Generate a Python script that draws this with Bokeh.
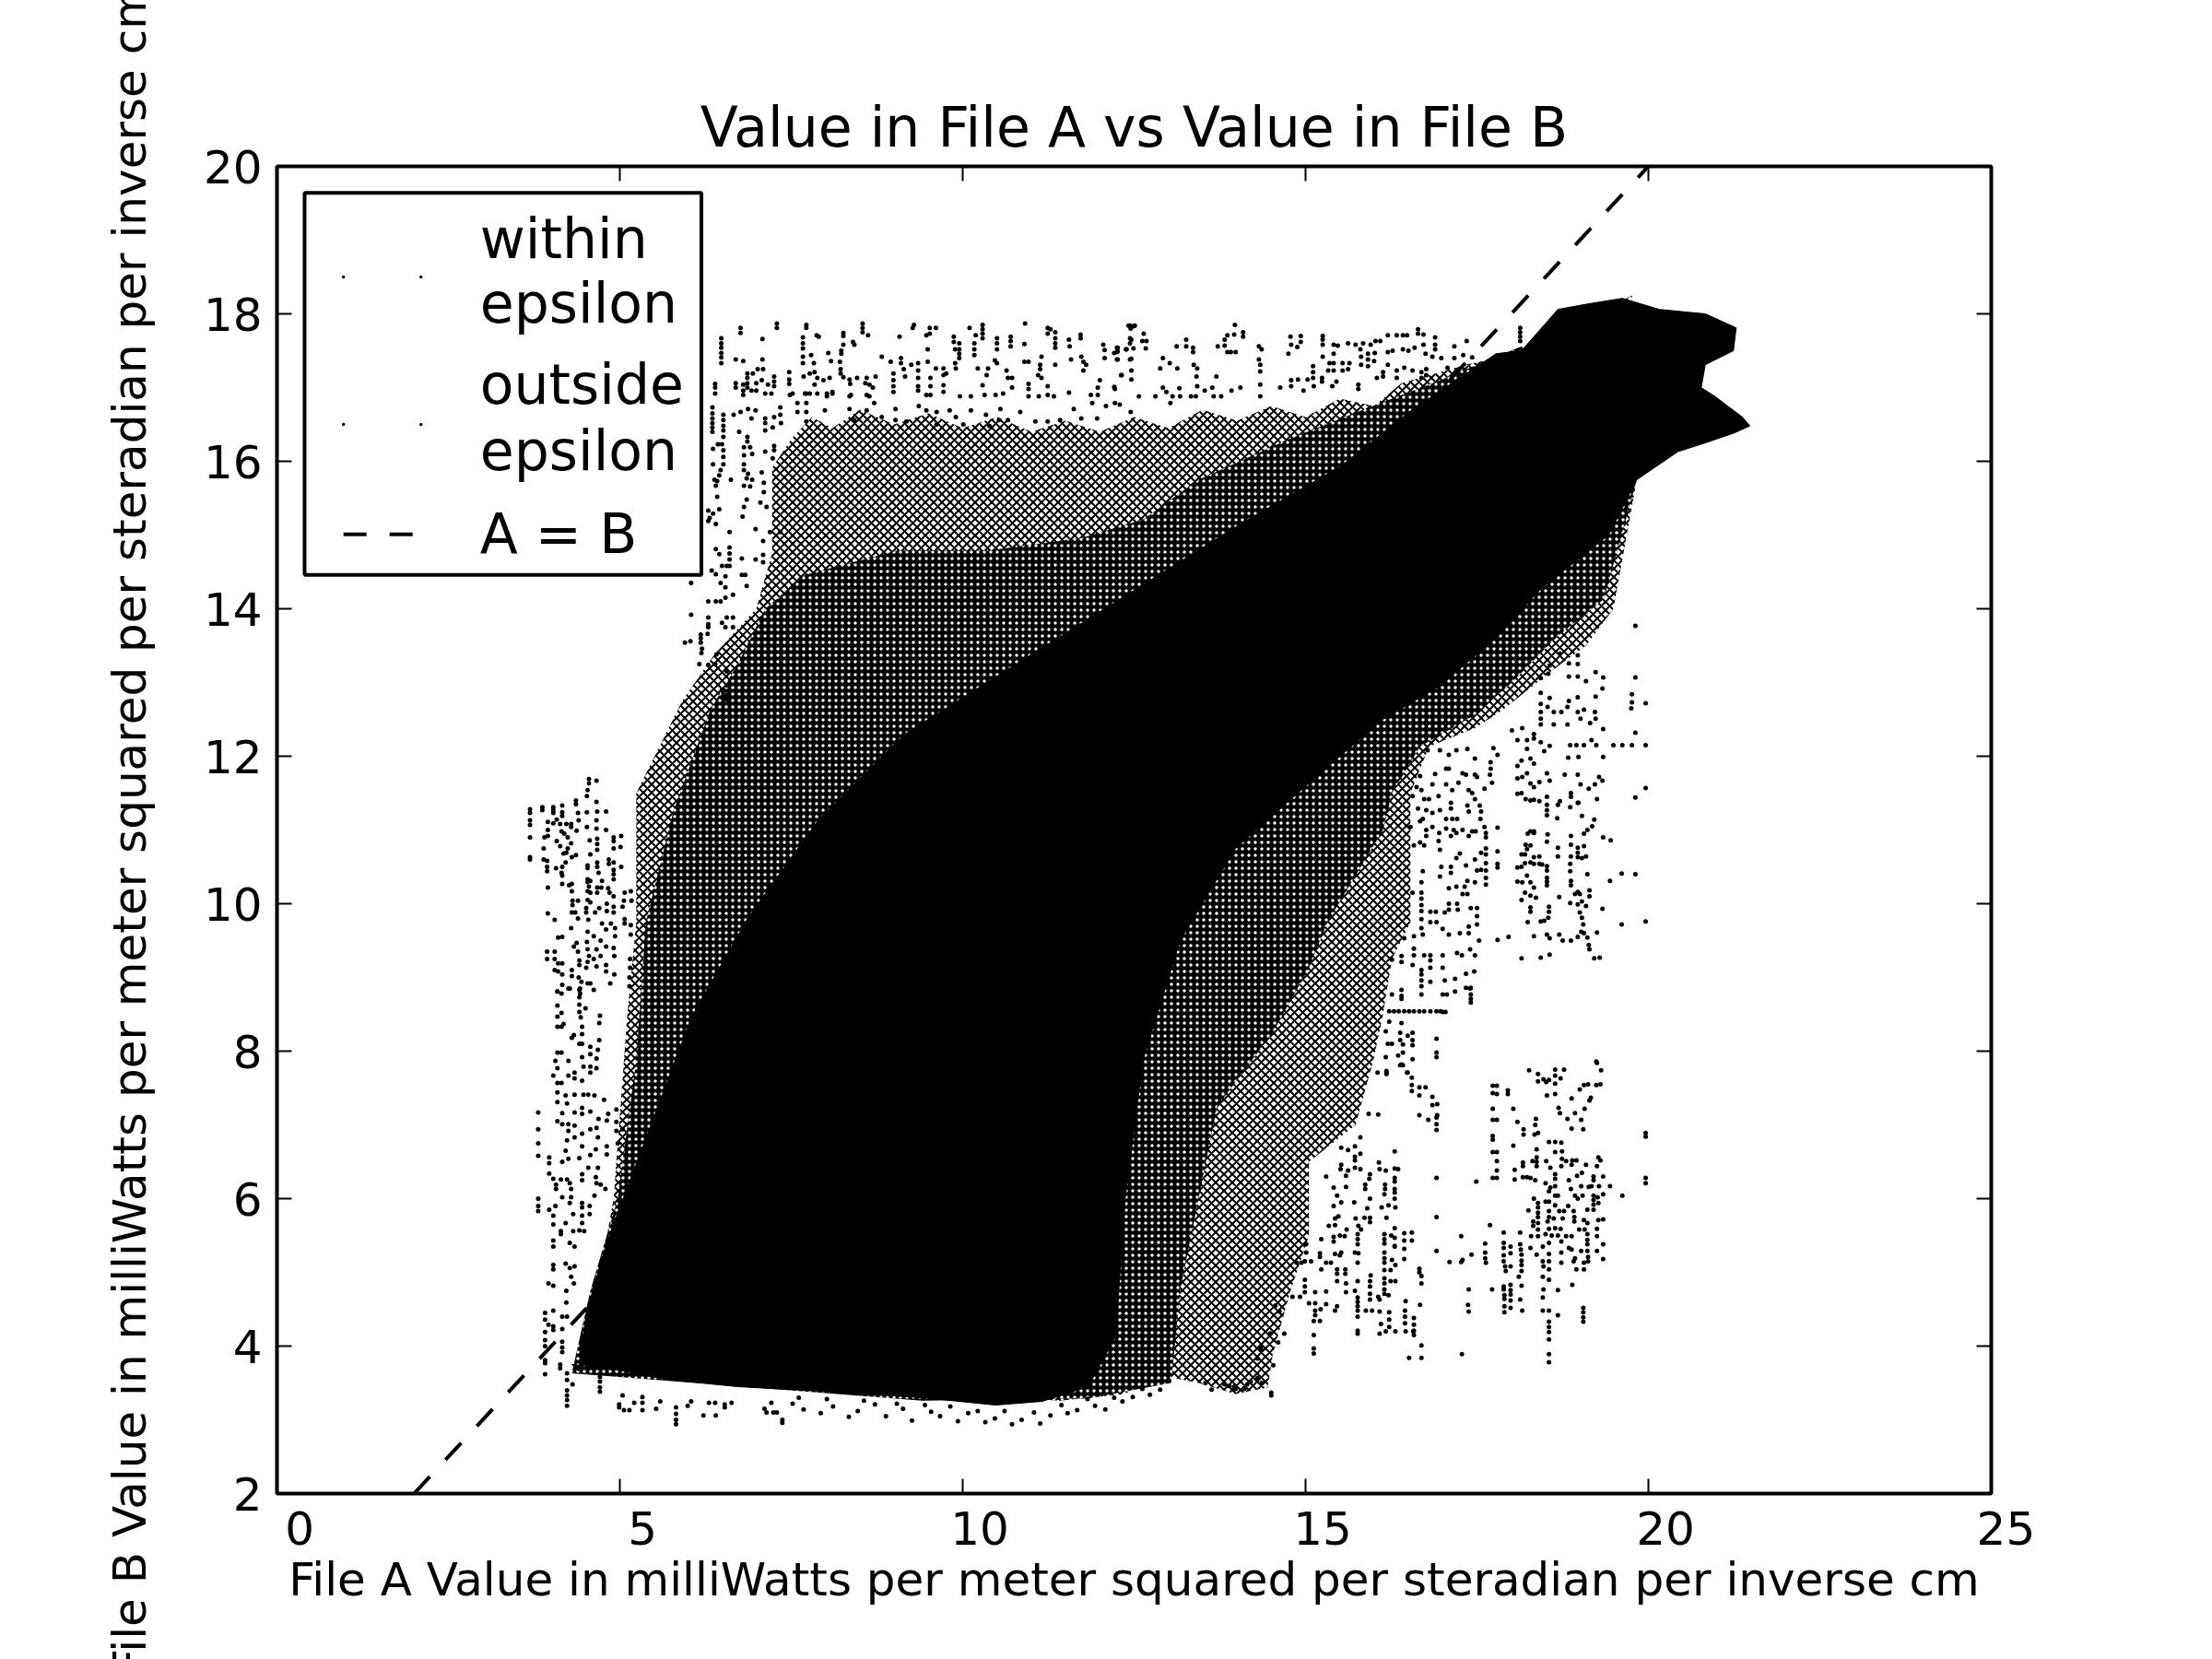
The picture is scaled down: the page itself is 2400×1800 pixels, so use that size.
from bokeh.plotting import figure
from bokeh.models import Range1d, LinearAxis, FixedTicker, Label, BoxAnnotation
from bokeh.embed import file_html
from bokeh.resources import INLINE

title_text = "Value in File A vs Value in File B"
x_title = "File A Value in milliWatts per meter squared per steradian per inverse cm"
y_title = "File B Value in milliWatts per meter squared per steradian per inverse cm"
x_ticks = [0, 5, 10, 15, 20, 25]
y_ticks = [2, 4, 6, 8, 10, 12, 14, 16, 18, 20]
identity_x = [2, 20]
identity_y = [2, 20]

# Solid black part of the cloud: outline
core_x = [4.30,4.84,5.65,6.72,8.06,9.41,10.48,11.16,11.83,12.23,12.37,12.63,13.17,13.98,15.19,16.13,16.94,17.81,18.41,19.42,19.83,20.43,20.83,21.24,21.48,21.37,20.97,20.77,20.83,21.24,21.28,20.83,20.16,19.62,19.09,18.68,18.15,17.78,16.54,15.51,14.07,12.43,10.78,9.14,7.90,6.87,6.05,5.43,4.81,4.51,4.40]
core_y = [3.75,3.70,3.55,3.45,3.38,3.30,3.20,3.25,3.45,4.13,6.00,7.88,9.50,10.75,11.75,12.50,12.94,13.63,14.25,15.00,15.75,16.13,16.25,16.38,16.48,16.60,16.88,17.00,17.31,17.50,17.81,18.00,18.06,18.21,18.13,18.06,17.50,17.46,16.69,15.93,15.16,14.21,13.25,12.29,11.14,9.81,8.47,6.94,5.41,4.45,3.66]

# Closely packed points with white specks between them: outline
dense_x = [7.12,7.70,9.05,10.39,11.73,12.63,13.44,14.78,15.73,16.94,18.15,19.83,19.35,18.68,18.01,17.47,16.67,16.26,16.13,15.32,15.05,14.52,13.71,13.44,13.17,13.04,11.83,9.41,4.30,4.57,4.97,5.24,5.38,5.78,6.32,6.72]
dense_y = [14.00,14.46,14.79,14.79,14.96,15.21,15.75,16.31,16.66,17.09,17.56,15.75,14.13,13.63,13.00,12.56,12.13,11.50,11.00,9.75,9.13,8.25,7.25,6.00,4.75,3.50,3.29,3.26,3.63,4.75,6.00,7.88,9.75,11.25,12.63,13.25]

# Loosely packed points: outline
loose_x = [7.22,7.50,7.80,8.10,8.50,9.00,9.50,10.00,10.50,11.00,11.50,12.00,12.50,13.00,13.50,14.00,14.50,15.00,15.50,16.00,16.40,17.34,18.55,18.82,19.76,19.83,19.49,19.09,18.55,17.88,17.47,16.80,16.53,16.53,16.26,16.13,15.99,15.73,15.05,15.05,14.78,14.52,14.45,13.98,13.44,12.77,12.37,11.42,4.30,4.57,4.91,5.11,5.24,5.24,5.91,6.38,6.99,7.22]
loose_y = [15.91,16.30,16.60,16.45,16.70,16.50,16.65,16.45,16.60,16.40,16.55,16.40,16.60,16.45,16.70,16.55,16.75,16.60,16.85,16.75,17.06,17.31,17.56,17.75,18.25,15.75,14.00,13.50,13.13,12.63,12.38,12.13,11.50,9.75,9.25,8.50,7.88,7.00,6.50,5.50,4.75,3.88,3.44,3.35,3.50,3.63,3.35,3.26,3.63,4.25,6.00,8.50,9.75,11.50,12.75,13.38,14.00,14.75]

# Separate points, read one by one
points_right_upper = [
(19.81,13.77),(19.81,13.07),(19.76,12.84),(19.76,12.73),(19.75,12.65),(19.96,12.72),(19.81,12.32),(19.96,12.15),(19.76,12.15),(19.62,12.15),(19.49,12.15),(19.34,12.37),(19.34,11.99),(19.24,12.15),(19.17,12.22),(19.06,12.15),(18.95,12.15),(18.86,12.15),(18.98,11.99),(18.83,11.98),(18.56,12.14),(18.48,12.07),(18.43,12.19),(18.33,12.30),(18.33,12.24),(18.23,12.22),(18.23,12.10),(18.09,12.22),(18.01,12.35),(18.16,12.38),(18.62,12.43),(18.82,12.43),(18.43,12.43),(18.43,12.51),(18.43,12.60),(18.43,12.71),(18.43,12.86),(18.56,12.79),(18.53,12.67),(18.62,12.60),(18.73,12.60),(18.82,12.67),(18.84,12.75),(18.97,12.80),(18.97,12.60),(19.06,12.63),(19.01,12.51),(19.15,12.45),(19.22,12.60),(19.23,12.51),(19.23,12.81),(19.33,12.92),(19.34,13.07),(19.23,13.14),(19.09,13.02),(18.97,13.08),(18.84,13.08),(18.84,13.26),(18.97,13.25),(18.97,13.37),(18.71,13.39),(18.56,13.23),(18.54,13.12),(18.43,13.06),
(19.96,11.57),(19.81,11.44),(19.28,11.72),(19.33,11.67),(19.22,11.62),(19.13,11.56),(19.01,11.62),(18.97,11.75),(18.78,11.75),(18.56,11.67),(18.52,11.77),(18.41,11.65),(18.28,11.63),(18.33,11.58),(18.23,11.77),(18.16,11.72),(18.09,11.70),(18.09,11.87),(18.15,11.94),(18.28,11.97),(18.33,11.90),(18.09,11.49),(18.15,11.50),(18.21,11.42),(18.28,11.40),(18.33,11.41),(18.41,11.39),(18.52,11.45),(18.52,11.34),(18.52,11.27),(18.52,11.20),(18.67,11.16),(18.68,11.34),(18.71,11.39),(18.87,11.50),(18.87,11.45),(18.86,11.31),(18.97,11.37),(18.98,11.37),(19.25,11.42),(19.03,11.19),(19.21,11.14),(19.18,11.05),(19.11,11.00),(19.06,10.95),(18.87,10.92),(19.34,10.90),(19.45,10.86),(18.28,10.98),(18.33,10.98),(18.24,10.95),(18.33,10.96),(18.53,10.94),(18.52,10.84),(18.21,10.80),(18.28,10.79),(18.87,10.80),(18.68,10.76),(18.97,10.76),(19.06,10.78),(17.80,11.03),(17.80,10.71),(18.23,10.74),(18.15,10.67),(18.20,10.67),(18.33,10.63),(18.41,10.64),(18.68,10.64),(18.87,10.64),(18.97,10.69),(18.97,10.63),(19.03,10.62),(19.09,10.64),(18.20,10.55),(18.28,10.56),(18.33,10.54),(18.41,10.54),(18.45,10.53),(18.52,10.51),(18.15,10.50),(18.09,10.49),(18.86,10.54),(18.86,10.44),(18.52,10.45),(18.52,10.35),(18.52,10.30),(18.52,10.25),(18.87,10.31),(18.87,10.25),(19.11,10.40),(19.61,10.41),(19.81,10.40),(19.44,10.31),(18.09,10.30),(18.16,10.29),(18.23,10.38),(18.28,10.29),(18.33,10.22),(17.80,10.54),(17.80,10.49),
(18.20,10.15),(18.28,10.11),(18.36,10.08),(18.15,10.05),(18.70,10.09),(18.86,10.01),(18.97,10.16),(18.93,10.13),(19.00,10.13),(19.14,10.18),(19.14,10.10),(18.97,9.99),(19.03,10.03),(19.09,9.97),(18.28,9.95),(18.28,9.89),(18.24,9.75),(18.55,9.96),(18.55,9.89),(18.54,9.81),(18.48,9.77),(18.43,9.76),(19.00,9.88),(19.03,9.81),(19.05,9.72),(19.33,9.93),(19.61,9.72),(19.96,9.76),(17.80,9.51),(17.96,9.55),(18.33,9.56),(18.52,9.58),(18.56,9.53),(18.70,9.58),(18.75,9.50),(18.87,9.50),(18.97,9.55),(19.02,9.62),(19.06,9.60),(19.11,9.54),(19.13,9.44),(19.14,9.38),(19.25,9.61),(18.56,9.31),(18.43,9.27),(18.15,9.26),(19.21,9.26),(19.29,9.27)]

points_middle_right = [
(17.80,12.02),(17.74,12.11),(17.70,11.92),(17.70,11.83),(17.69,11.75),(17.72,11.64),(17.61,11.56),(17.47,11.75),(17.50,11.72),(17.38,11.54),(17.43,11.50),(17.47,11.42),(17.36,11.33),(17.38,11.25),(17.54,11.33),(17.56,11.25),(17.55,11.15),(17.61,11.04),(17.63,10.96),(17.63,10.90),(17.43,10.98),(17.48,10.98),(17.38,10.92),(17.29,11.00),(17.20,10.96),(17.12,10.92),(17.16,11.00),(17.05,11.02),(16.95,10.96),(16.85,11.04),(16.76,11.00),(16.76,10.92),(16.67,11.12),(16.71,11.15),(16.53,11.04),(16.58,10.79),(16.67,10.83),(16.73,10.79),(16.94,10.85),(16.96,10.73),(17.25,10.68),(17.20,10.62),(17.34,10.52),(17.47,10.60),(17.56,10.69),(17.63,10.75),(17.63,10.67),(17.63,10.55),(17.63,10.45),(17.63,10.35),(17.63,10.26),(17.56,10.46),(17.50,10.45),(17.47,10.29),(17.36,10.31),(17.32,10.23),(17.20,10.23),(17.09,10.21),(17.12,10.50),(17.12,10.42),(16.98,10.50),(16.96,10.37),(16.71,10.44),(16.69,10.29),(16.56,10.15),(16.69,10.15),(16.69,10.07),(16.69,9.98),(16.69,9.90),(16.69,9.79),(16.69,9.67),(16.82,9.89),(16.90,9.89),(17.03,9.88),(17.09,10.00),(17.09,9.92),(17.21,10.00),(17.22,9.92),(17.29,10.13),(17.36,10.13),(17.41,9.94),(17.50,9.94),(17.50,9.83),(17.50,9.72),(17.38,9.69),(17.38,9.60),(17.25,9.60),(17.09,9.58),(17.00,9.66),(16.91,9.75),(16.82,9.75),(16.71,9.58),(16.58,9.56),(16.44,9.53),(16.73,9.30),(16.82,9.30),(17.00,9.30),(17.21,9.33),(17.28,9.30),(17.40,9.38),(17.53,9.50),(17.47,9.30),(16.58,9.39),(16.58,9.30),
(16.78,12.08),(16.96,12.08),(17.09,12.02),(17.20,12.08),(17.36,12.10),(17.47,11.97),(17.29,11.77),(17.34,11.75),(17.09,11.83),(17.05,11.83),(16.89,11.76),(16.67,11.73),(16.85,11.62),(17.05,11.62),(17.23,11.64),(17.14,11.54),(16.94,11.46),(16.80,11.42),(16.73,11.42),(16.62,11.58),(16.69,11.54),(16.56,11.46),(16.64,11.29),(16.76,11.27),(16.85,11.23),(16.96,11.27),(17.05,11.15),(17.14,11.15),(17.21,11.15),(17.12,11.37),(17.12,11.29),
(16.26,9.24),(16.40,9.29),(16.40,9.21),(16.56,9.17),(16.69,9.10),(16.82,9.23),(16.82,9.13),(17.00,9.13),(17.34,9.05),(17.46,9.08),(16.69,9.04),(16.69,8.96),(16.69,8.88),(16.40,8.83),(16.40,8.75),(16.40,8.71),(16.26,8.77),(16.69,8.77),(17.00,8.77),(17.06,8.77),(17.18,8.81),(17.41,8.86),(17.41,8.77),(17.41,8.71),(17.41,8.66),(17.34,8.86),(17.40,8.85),(16.82,8.94),(17.03,8.96),(17.18,8.98),
(16.22,8.54),(16.29,8.54),(16.36,8.54),(16.44,8.54),(16.51,8.54),(16.58,8.54),(16.66,8.54),(16.73,8.54),(16.82,8.54),(16.91,8.54),(16.97,8.54),(17.00,8.53),(17.04,8.53),
(16.22,8.40),(16.40,8.38),(16.17,8.27),(16.38,8.25),(16.56,8.25),(16.49,8.21),(16.38,8.15),(16.56,8.15),(16.20,8.10),(16.26,8.10),(16.42,8.09),(16.56,8.08),(16.17,7.92),(16.35,7.94),(16.42,7.98),(16.56,7.89),(16.91,8.17),(16.91,7.98),(16.91,7.92),(16.38,7.81),(16.42,7.81),(16.18,7.71),(16.49,7.71)]

points_far_right = [
(19.96,6.89),(19.96,6.84),(19.96,6.28),(19.96,6.21),(19.62,6.04),(19.44,6.17),(19.34,6.30),(19.28,6.17),(19.34,6.06),(19.26,6.02),(19.20,6.30),(19.20,6.25),(19.13,6.16),(19.17,6.17),(19.02,6.17),(18.87,6.13),(18.84,6.25),(18.96,6.31),(19.03,6.35),(19.09,6.46),(19.27,6.56),(19.30,6.52),(19.25,6.44),(18.89,6.52),(18.95,6.52),(18.80,6.51),(18.88,6.46),(18.74,6.54),(18.73,6.44),(18.64,6.33),(18.64,6.27),(18.50,6.21),(18.57,6.15),(18.64,6.17),(18.55,6.10),(18.64,6.04),(18.68,6.04),(18.93,6.04),(18.97,6.00),(19.04,6.04),(19.20,6.04),(19.20,5.98),(19.20,5.92),(19.27,5.94),(19.20,5.85),(19.11,5.85),(18.91,5.83),(18.92,5.75),(18.92,5.69),(18.83,5.90),(18.77,5.83),(18.70,5.83),(18.64,5.91),(18.55,5.96),(18.50,5.96),(18.55,5.83),(18.39,5.94),(18.39,5.88),(18.39,5.81),(18.33,6.00),(18.25,5.84),(18.39,5.75),(18.39,5.67),(18.39,5.58),(18.39,5.49),(18.32,5.69),(18.32,5.63),(18.29,5.49),(18.55,5.75),(18.53,5.69),(18.62,5.73),(18.75,5.73),(19.06,5.71),(19.11,5.67),(19.27,5.71),(19.34,5.72),(19.25,5.59),(19.25,5.49),(19.07,5.58),(18.99,5.58),(18.88,5.49),(18.80,5.49),(18.72,5.59),(18.64,5.60),(18.55,5.59),(18.50,5.52),(18.59,5.50),(18.68,5.50),(19.11,5.52),(19.11,5.44),(19.11,5.38),(19.11,5.29),(19.12,5.21),(19.12,5.15),(19.02,5.29),(18.93,5.19),(18.91,5.15),(18.95,5.04),(19.06,5.04),(19.06,5.13),(18.84,5.33),(18.88,5.31),(18.55,5.40),(18.55,5.25),(18.55,5.15),(18.55,5.04),(18.55,4.90),(18.46,5.35),(18.46,5.15),(18.47,5.08),(18.37,5.24),(18.28,5.33),(18.73,5.42),(18.73,5.27),(18.73,5.13),(19.25,5.29),(19.34,5.38),(19.34,5.18),(18.46,4.94),(18.47,4.77),(18.68,4.76),(18.89,4.83),(18.46,4.66),(18.46,4.48),(18.55,4.48),(18.68,4.42),(19.05,4.52),(19.05,4.46),(19.05,4.39),(19.05,4.33),(18.55,4.33),(18.55,4.26),(18.55,4.19),(18.55,4.09),(18.55,3.89),(18.55,3.78),
(18.13,5.54),(18.13,5.38),(18.14,5.31),(18.15,5.24),(18.15,5.16),(18.15,5.10),(18.15,5.02),(18.11,4.94),(18.15,4.82),(18.13,4.63),(18.16,4.48),(17.89,5.54),(17.89,5.40),(17.89,5.33),(17.89,5.23),(17.89,5.15),(17.91,5.08),(17.92,5.02),(17.99,5.35),(17.99,5.26),(17.99,5.08),(17.89,4.81),(17.89,4.77),(17.99,4.83),(17.99,4.76),(17.90,4.69),(17.90,4.64),(17.99,4.70),(17.99,4.62),(17.99,4.52),(17.90,4.54),(17.90,4.46),(17.62,5.39),(17.62,5.27),(17.62,5.19),(17.63,5.13),(17.27,5.49),(17.42,5.24),(17.29,5.17),(17.27,5.14),(17.10,5.14),(17.69,5.64),(17.38,4.77),(17.72,4.77),(17.37,4.56),(17.38,4.47),(17.28,3.89),
(17.73,7.53),(17.79,7.53),(17.73,7.43),(17.79,7.42),(17.95,7.47),(17.95,7.42),(17.73,7.22),(18.03,7.22),(17.73,7.07),(17.79,7.07),(17.73,6.85),(17.73,6.80),(18.03,6.72),(17.73,6.63),(17.79,6.63),(17.79,6.51),(17.79,6.38),(17.73,6.28),(17.79,6.28),(18.05,6.39),(18.05,6.26),(17.49,6.23),(16.91,7.10),(16.91,7.01),(16.91,6.93),(16.91,6.28),(16.91,5.75),(16.91,5.29),
(18.17,6.49),(18.17,6.44),(18.17,6.29),(18.23,6.29),(18.28,6.28),(18.35,6.25),(18.37,6.44),(18.37,6.50),(18.31,6.51),(18.37,6.56),(18.37,6.67),(18.51,6.51),(18.57,6.42),(18.64,6.63),(18.74,6.64),(18.64,6.77),(18.73,6.76),(18.55,6.77),(18.34,6.87),(18.39,6.89),(18.18,6.94),(18.18,6.87),(18.52,7.40),(18.26,7.74),(18.39,7.69),(18.39,7.59),(18.47,7.62),(18.51,7.58),(18.55,7.61),(18.64,7.75),(18.64,7.67),(18.77,7.75),(18.72,7.63),(18.64,7.56),(18.64,7.42),(18.69,7.23),(18.71,7.16),(18.82,7.08),(18.88,6.95),(18.88,7.36),(18.93,7.16),(19.02,7.07),(19.05,6.94),(19.07,7.22),(19.14,7.33),(19.16,7.37),(19.24,7.54),(19.30,7.55),(19.24,7.86),(19.31,7.74),(19.25,7.84),(19.00,7.48),(19.06,7.54),(19.12,7.55),(18.09,7.04),(18.36,7.08),(18.35,7.00)]

points_lower_mid = [
(15.01,5.38),(15.01,5.27),(15.08,5.15),(14.99,5.15),(14.87,5.13),(14.94,5.13),(14.99,4.90),(14.99,4.81),(14.99,4.73),(15.14,4.73),(15.30,4.74),(14.92,4.67),(14.81,4.67),(15.05,4.58),(15.14,4.58),(15.30,4.57),(15.46,4.54),(15.43,4.48),(15.14,4.48),(15.14,4.42),(15.22,4.50),(15.21,4.34),(15.41,5.48),(15.41,5.42),(15.50,5.50),(15.57,5.49),(15.23,5.45),(15.43,5.25),(15.50,5.23),(15.52,5.27),(15.30,5.13),(15.23,5.04),(15.37,5.13),(15.21,5.26),(15.21,5.21),(15.34,5.63),(15.43,5.64),(15.46,6.04),(15.52,5.95),(15.41,5.90),(15.71,5.95),(15.48,5.76),(15.43,5.73),(15.59,6.16),(15.41,6.15),(15.30,6.30),(15.59,6.31),(15.52,6.46),(15.51,6.40),(15.62,6.38),(15.72,6.52),(15.72,6.42),(15.80,6.40),(15.62,6.66),(15.52,6.69),(15.72,6.71),(15.46,5.04),(15.46,4.98),(15.46,4.88),(15.58,5.04),(15.58,4.98),(15.59,4.85),(15.59,4.73),(15.72,5.27),(15.77,5.26),(15.72,4.75),(15.76,5.13),(15.76,4.88),(15.76,4.66),(15.76,4.60),(15.76,4.54),(15.76,4.48),(15.76,4.40),(15.76,4.21),(15.76,4.17),(15.76,5.52),(15.76,5.45),(15.76,5.38),(15.77,5.63),(15.81,5.58),(15.60,5.58),(15.94,5.74),(15.94,5.68),(15.86,5.74),(15.73,5.73),(15.90,5.87),(16.11,5.88),(16.21,5.91),(16.31,5.88),(16.18,5.74),(15.94,6.00),(16.15,6.06),(16.16,6.19),(16.16,6.13),(16.30,6.13),(16.30,6.08),(15.87,6.19),(15.87,6.13),(15.94,6.33),(15.93,6.27),(16.08,6.40),(16.17,6.38),(16.35,6.40),(16.30,6.23),(16.07,6.49),
(15.95,4.96),(15.94,4.88),(15.94,4.81),(15.94,4.71),(15.94,4.63),(16.15,4.92),(16.15,4.85),(16.15,4.77),(16.15,4.71),(16.21,4.69),(16.06,4.67),(16.08,4.63),(16.15,5.52),(16.15,5.45),(16.15,5.39),(16.15,5.27),(16.15,5.19),(16.15,5.13),(16.15,5.03),(16.24,5.03),(16.25,5.50),(16.30,5.35),(16.26,5.17),(16.31,5.10),(16.31,4.88),(16.24,4.88),(16.22,4.46),(16.22,4.36),(16.22,4.26),(16.17,4.20),(16.08,4.17),(16.10,4.30),(15.97,4.48),(15.88,4.48),(16.08,4.47),(16.31,4.20),(16.46,4.20),(16.45,4.48),(16.45,4.40),(16.45,4.31),(16.58,4.38),(16.58,4.29),(16.58,4.21),(16.58,4.15),(16.46,4.61),(16.67,4.56)]

points_lower_right = [
(16.05,7.71),(16.18,7.73),(16.18,7.69),(16.40,7.82),(16.48,7.71),(16.55,7.64),(16.55,7.54),(16.55,7.46),(16.66,7.51),(16.66,7.40),(16.75,7.51),(16.85,7.38),(16.85,7.27),(16.92,7.28),(16.92,7.13),(16.66,7.13),(16.79,7.07),(16.06,7.14),(15.92,7.15),(15.80,6.83),(15.80,6.61),(15.72,6.57),(16.30,6.64),(16.30,6.41),(16.30,6.28),(16.30,6.00),(16.30,5.60),(16.30,5.47),(16.30,5.36),(16.55,5.54),(16.55,5.43),(16.44,5.53),(16.44,5.43),(16.44,5.32),(16.44,5.18),(16.66,5.05),(16.66,5.00),(16.69,4.95),(16.69,4.85),
(14.56,4.55),(14.62,4.47),(14.69,4.17),(14.49,4.17),(14.60,4.05),(14.35,4.00),(14.35,3.96),(14.48,4.17),(14.30,3.83),(14.30,3.57),(14.53,3.74),(15.12,4.34),(15.12,4.15),(15.12,3.97),(15.12,3.90),(13.96,3.45),(14.20,3.52),(14.50,3.37),(14.50,3.33),(13.63,3.41),(13.54,3.50),(13.82,3.48),(13.89,3.46),(13.98,3.42),(14.11,3.42),(14.15,3.48),(14.36,3.50),(16.69,4.01),(16.69,3.84),(16.57,4.20),(16.51,3.84)]

points_bottom_edge = [
(7.52,3.22),(7.68,3.14),(7.93,3.09),(8.11,3.18),(8.34,3.04),(8.47,3.12),(8.72,3.21),(8.88,3.05),(9.13,3.15),(9.26,2.99),(9.54,3.11),(9.67,3.05),(9.93,2.98),(10.08,3.09),(10.33,2.97),(10.47,3.02),(10.72,2.94),(10.86,3.00),(11.13,2.95),(11.28,3.06),(11.53,3.09),(11.67,3.13),(11.93,3.19),(12.08,3.14),(12.33,3.25),(12.48,3.31),(12.73,3.34),(12.88,3.41),
(7.61,3.30),(8.02,3.28),(8.56,3.26),(9.04,3.22),(9.45,3.20),(9.82,3.18),(10.22,3.12),(10.61,3.12),(11.04,3.10),(11.44,3.20),(11.82,3.28),(12.21,3.30),(12.62,3.42)]

points_left_upper = [
(3.69,11.28),(3.69,11.23),(3.69,11.13),(3.69,11.07),(3.69,10.90),(3.69,10.63),(3.69,10.60),(3.87,11.31),(3.87,11.27),(4.03,11.31),(4.03,11.27),(4.03,11.23),(4.16,11.33),(4.16,11.24),(4.16,11.19),(4.36,11.40),(4.36,11.35),(3.95,11.11),(4.03,11.09),(4.08,11.14),(4.13,11.08),(4.22,11.08),(4.29,11.08),(4.29,11.04),(4.40,11.13),(4.39,11.23),(4.37,10.99),(3.95,11.00),(3.90,10.90),(3.95,10.92),(4.08,10.85),(4.15,10.98),(4.19,10.95),(4.24,10.90),(4.29,10.82),(4.24,10.75),(4.18,10.68),(4.13,10.78),(3.89,10.75),(3.89,10.60),(3.94,10.58),(3.94,10.50),(3.94,10.44),(4.22,10.69),(4.30,10.63),(4.36,10.66),(4.07,10.48),(4.16,10.50),(4.21,10.56),(4.15,10.42),(4.16,10.38),(4.16,10.27),(3.95,10.22),(4.26,10.25),(4.30,10.27),(4.30,10.17),(4.31,10.04),(4.31,9.98),(4.39,10.04),(4.30,9.88),(4.35,9.88),(3.95,9.87),(4.05,9.78),(4.39,9.80),(4.29,9.67),(4.10,9.54),(4.16,9.55),(4.37,9.47),(4.33,9.42),(4.39,9.35),(3.94,9.35),(4.05,9.35),(3.94,9.25),(4.05,9.25),(4.05,9.10),(4.10,9.19),(4.16,9.19),(4.10,9.08),(4.16,9.04),(4.30,9.10),(4.30,9.02),(4.27,8.85),(4.16,8.90),(4.41,9.23),(4.41,9.17),(4.40,9.00),(4.44,8.94),(4.42,8.85),(4.42,8.78),(4.53,8.92),(4.57,8.92),(4.09,8.81),(4.15,8.78),
(4.52,11.46),(4.53,11.54),(4.55,11.69),(4.55,11.63),(4.52,11.24),(4.52,11.04),(4.56,10.86),(4.53,10.52),(4.53,10.48),(4.57,10.67),(4.53,10.33),(4.53,10.29),(4.57,10.31),(4.55,10.23),(4.53,10.17),(4.57,10.15),(4.53,10.05),(4.57,10.02),(4.51,9.94),(4.51,9.88),(4.54,9.78),(4.53,9.62),(4.52,9.48),(4.53,9.38),(4.55,9.29),(4.53,9.21),(4.51,9.13),(4.66,11.67),(4.66,11.38),(4.67,11.25),(4.66,11.13),(4.66,11.02),(4.67,10.88),(4.67,10.81),(4.67,10.73),(4.67,10.56),(4.67,10.50),(4.69,10.42),(4.74,10.31),(4.67,10.22),(4.67,10.15),(4.73,10.22),(4.70,9.94),(4.64,9.88),(4.74,9.73),(4.62,9.56),(4.72,9.50),(4.66,9.38),(4.72,9.29),(4.62,9.25),(4.66,9.15),(4.62,8.83),(4.80,11.25),(4.80,11.00),(4.91,10.90),(4.91,10.85),(4.91,10.75),(4.84,10.60),(4.84,10.54),(4.91,10.56),(4.91,10.46),(4.91,10.40),(4.91,10.33),(4.83,10.21),(4.85,10.15),(4.91,10.10),(4.81,10.00),(4.81,9.90),(4.91,9.96),(4.91,9.88),(4.87,9.73),(4.93,9.67),(4.80,9.65),(4.93,9.56),(4.80,9.42),(4.91,9.40),(4.92,9.29),(4.80,9.17),(4.80,9.08),(4.92,9.04),(4.86,8.92),
(5.02,10.92),(5.01,10.77),(5.02,10.50),(5.07,10.15),(5.06,10.04),(5.04,9.96),(5.07,9.79),(5.07,9.73),(5.16,10.17),(5.17,10.04),(5.16,9.71),(5.16,9.58),(5.15,9.25),(5.15,9.13),(5.14,9.00),(5.14,8.88)]

points_left_middle = [
(4.09,8.81),(4.09,8.62),(4.09,8.47),(4.15,8.52),(4.09,8.33),(4.15,8.33),(4.18,8.37),(4.25,8.85),(4.41,8.83),(4.41,8.73),(4.41,8.63),(4.50,8.58),(4.41,8.53),(4.43,8.46),(4.45,8.33),(4.45,8.23),(4.33,8.22),(4.30,8.18),(4.41,8.10),(4.45,8.10),(4.57,8.06),(4.57,7.96),(4.70,8.15),(4.70,8.38),(4.71,8.48),(4.68,8.02),(4.09,7.98),(4.15,7.98),(4.06,7.87),(4.09,7.77),(4.25,7.87),(4.03,7.67),(4.25,7.67),(4.34,7.71),(4.34,7.63),(4.45,7.60),(4.57,7.71),(4.47,7.79),(4.57,7.79),(4.66,7.77),(4.66,7.90),(4.45,7.92),
(4.09,7.57),(4.15,7.57),(4.09,7.44),(4.09,7.31),(4.21,7.40),(4.34,7.41),(4.47,7.41),(4.54,7.41),(4.63,7.40),(4.23,7.29),(4.77,7.34),(4.16,7.16),(4.34,7.17),(4.45,7.23),(4.45,7.15),(4.57,7.18),(4.09,7.05),(4.16,7.01),(4.25,7.01),(4.34,6.99),(4.25,6.92),(4.23,6.79),(4.34,6.83),(4.45,6.88),(4.57,6.94),(4.45,6.71),(4.57,6.59),(4.21,6.65),(4.25,6.54),(4.16,6.50),(4.41,6.55),(3.97,6.56),(3.97,6.48),(3.97,6.34),(4.03,6.27),(4.14,6.26),(4.23,6.26),(4.07,6.19),(4.07,6.13),(4.27,6.21),(4.29,6.13),(4.16,6.02),(4.45,6.33),(4.45,6.25),(4.54,6.42),(4.65,6.67),(4.68,6.83),(4.66,6.96),(4.69,7.08),(4.83,7.15),(4.81,7.06),(4.95,7.21),(4.95,7.04),(4.95,6.92),(5.04,6.94),(4.97,6.75),(4.81,6.71),(4.81,6.60),(4.68,6.42),(4.65,6.29),(4.79,6.13),(4.66,6.21),(4.72,6.19),(4.63,6.04),(3.81,7.17),(3.81,6.94),(3.81,6.75),(3.81,6.58),(3.81,6.00)]

points_left_lower = [
(3.81,5.90),(3.81,5.83),(3.97,5.85),(4.06,5.90),(4.03,5.77),(4.03,5.65),(4.14,5.56),(4.14,5.52),(4.03,5.43),(4.03,5.35),(4.03,5.10),(4.03,5.04),(3.96,4.85),(4.03,4.82),(4.21,5.12),(4.27,5.06),(4.34,5.08),(4.29,4.94),(4.33,4.85),(4.22,4.75),(4.22,4.59),(4.03,4.48),(3.91,4.45),(3.91,4.36),(3.96,4.29),(4.03,4.27),(4.03,4.22),(3.91,4.19),(3.91,4.08),(3.91,4.00),(3.91,3.81),(3.91,3.77),(3.91,3.62),(4.16,4.40),(4.23,4.40),(4.16,4.23),(4.16,4.06),(4.16,3.98),(4.16,3.92),(4.13,3.75),(4.13,3.70),(4.23,3.63),(4.23,3.54),(4.31,3.48),(4.23,3.40),(4.23,3.33),(4.23,3.27),(4.23,3.19),(4.71,3.58),(4.71,3.52),(4.71,3.44),(4.71,3.38),
(4.32,5.56),(4.41,5.57),(4.48,5.56),(4.45,5.67),(4.45,5.77),(4.27,5.40),(4.34,5.35),(4.29,6.02),(4.27,5.94),(4.32,5.79),(4.45,5.94),(4.45,5.88),(4.56,5.79),(4.56,5.90),(4.21,5.67),
(4.99,3.21),(4.99,3.17),(5.06,3.13),(5.14,3.13),(5.04,3.33),(5.21,3.23),(5.33,3.31),(5.33,3.23),(5.33,3.13),(5.53,3.15),(5.59,3.25),(5.82,3.17),(5.82,3.08),(5.82,3.00),(5.82,2.94),(5.99,3.19),(6.04,3.25),(6.22,3.06),(6.30,3.23),(6.40,3.06),(6.39,3.23),(6.53,3.21),(6.53,3.17),(6.63,3.23),(7.11,3.15),(7.14,3.10),(7.24,3.10),(7.29,3.10),(7.37,3.00),(7.37,2.96),(7.21,3.23)]

points_top_left = [
(7.29,17.87),(7.29,17.81),(7.72,17.85),(7.72,17.81),(8.54,17.87),(8.54,17.81),(8.54,17.75),(8.62,17.71),(9.29,17.85),(9.27,17.81),(9.52,17.81),(9.61,17.81),(10.10,17.81),(10.29,17.85),(10.29,17.79),(10.29,17.73),(10.29,17.67),(10.91,17.87),(11.24,17.81),(11.28,17.79),(12.42,17.84),(12.49,17.83),(12.45,17.80),
(6.76,17.81),(6.76,17.74),(6.48,17.67),(6.48,17.60),(6.48,17.54),(6.48,17.47),(6.48,17.41),(6.48,17.33),(7.08,17.66),(7.67,17.68),(7.67,17.60),(7.67,17.53),(7.67,17.42),(7.67,17.33),(7.87,17.71),(7.90,17.69),(8.26,17.74),(8.26,17.70),(8.40,17.62),(8.42,17.58),(8.26,17.58),(8.23,17.50),(8.23,17.46),(9.08,17.69),(9.47,17.71),(9.52,17.73),(9.87,17.69),(9.87,17.62),(9.95,17.60),(9.95,17.52),(9.95,17.46),(9.95,17.40),(9.89,17.52),(9.89,17.33),(10.19,17.71),(10.17,17.60),(10.17,17.52),(10.17,17.44),(10.50,17.67),(10.50,17.60),(10.50,17.52),(10.70,17.69),(10.70,17.63),(10.70,17.56),(10.90,17.59),(11.24,17.73),(11.35,17.75),(11.35,17.67),(11.35,17.60),(11.35,17.54),(11.55,17.65),(11.56,17.56),(11.72,17.72),(11.72,17.67),(12.05,17.58),(12.07,17.51),(12.25,17.54),(12.25,17.48),(12.25,17.38),(12.38,17.52),(12.44,17.67),(12.44,17.60),(12.44,17.38),
(6.69,17.38),(6.80,17.36),(7.08,17.38),(7.83,17.33),(7.79,17.44),(8.04,17.47),(8.08,17.36),(8.82,17.42),(8.95,17.35),(9.10,17.40),(9.10,17.33),(9.49,17.52),(9.49,17.35),(10.47,17.37),(10.50,17.33),(10.90,17.35),(10.96,17.35),(11.15,17.42),(11.13,17.31),(11.35,17.31),(11.58,17.38),(11.73,17.42),(11.76,17.35),(11.80,17.31),(11.76,17.23),(12.07,17.40),
(8.21,17.35),(8.22,17.25),(8.22,17.19),(8.26,17.14),(8.35,17.11),(8.36,17.05),(8.46,17.13),(8.60,17.13),(8.73,17.15),(8.99,17.19),(8.99,17.10),(8.99,17.02),(8.99,16.94),(9.14,17.25),(9.16,17.15),(9.25,17.31),(9.35,17.33),(9.35,17.23),(9.35,17.13),(9.35,17.02),(9.35,16.96),(9.53,17.13),(9.53,17.02),(9.53,16.90),(9.47,16.90),(9.61,17.26),(9.72,17.26),(9.72,17.17),(9.76,17.19),(9.72,17.03),(9.72,16.94),(9.90,17.26),(10.22,17.26),(10.37,17.26),(10.35,17.17),(10.29,17.03),(10.64,17.23),(10.66,17.13),(10.72,17.13),(10.72,17.00),(10.96,17.05),(10.96,16.98),(10.96,16.88),(11.13,17.25),(11.10,17.17),(11.15,17.13),(11.24,17.02),(12.00,17.10),(11.97,17.00),(12.22,16.98),(12.32,17.17),
(7.47,17.21),(7.47,17.11),(7.47,17.05),(7.25,17.15),(7.25,17.08),(7.25,17.02),(7.09,17.25),(7.01,17.25),(6.94,17.19),(6.86,17.19),(6.86,17.13),(6.86,17.06),(6.86,17.00),(6.80,17.04),(6.80,16.96),(6.80,16.90),(6.69,17.06),(6.69,17.00),(6.39,17.05),(6.39,17.00),(6.39,16.92),(6.99,17.06),(7.07,17.10),(7.16,17.04),(7.68,17.15),(7.77,17.19),(7.84,17.21),(7.88,17.13),(7.97,17.10),(8.06,17.13),(7.84,17.04),(7.77,16.92),(8.64,17.04),(8.69,17.00),(8.58,17.06),(8.10,16.94),(8.02,16.92),(7.88,16.92),(7.70,16.92),(7.48,16.90),(7.52,16.92),(7.21,16.92),(7.12,16.92),(6.92,16.96),(6.99,16.96),(8.60,16.90),(8.37,16.90),(9.96,16.88),(10.12,16.88),(10.32,16.90),(10.48,16.90),(10.59,16.92),(11.33,16.88),(11.24,16.90),(11.11,16.88),(11.55,16.93),(11.87,16.90),(11.97,16.90),(12.22,16.79),
(7.34,16.73),(7.34,16.63),(7.35,16.52),(7.59,16.79),(7.59,16.67),(7.72,16.92),(7.72,16.79),(7.72,16.67),(7.72,16.54),(7.99,16.69),(8.02,16.88),(8.10,16.92),(8.35,16.88),(8.35,16.71),(8.42,16.56),(8.64,16.88),(8.71,16.79),(8.60,16.69),(8.82,16.60),(9.02,16.71),(9.02,16.56),(9.18,16.54),(9.36,16.75),(9.47,16.69),(9.62,16.67),(9.62,16.50),(9.81,16.69),(9.90,16.60),(10.01,16.50),(10.12,16.69),(10.34,16.63),(10.39,16.48),(10.55,16.71),(10.53,16.56),(10.66,16.56),(10.84,16.67),(11.06,16.54),(11.24,16.54),(11.42,16.56),(11.62,16.71),(11.73,16.58),(11.89,16.79),(11.96,16.58),(12.09,16.75),(12.29,16.77),(12.45,16.67)]

points_left_of_band = [
(6.35,16.73),(6.35,16.65),(6.35,16.58),(6.35,16.52),(6.35,16.46),(6.35,16.40),(6.51,16.63),(6.51,16.56),(6.51,16.48),(6.51,16.42),(6.51,16.33),(6.49,16.23),(6.43,16.23),(6.36,16.17),(6.51,16.15),(6.51,16.06),(6.51,15.96),(6.36,15.96),(6.47,15.88),(6.45,15.81),(6.38,15.75),(6.42,15.73),(6.40,15.67),(6.42,15.52),(6.62,15.75),(6.66,16.63),(6.76,16.67),(6.87,16.71),(6.98,16.69),(6.92,16.58),(6.74,16.40),(6.86,16.33),(6.86,16.27),(6.81,16.19),(6.90,16.19),(6.93,16.10),(6.81,16.08),(6.81,15.96),(6.81,15.88),(6.87,15.83),(6.85,15.77),(6.93,15.75),(6.81,15.67),(6.90,15.66),(6.85,15.48),(6.81,15.38),(6.79,15.25),(6.29,15.33),(6.45,15.35),(6.36,15.29),(6.31,15.23),(6.29,15.19),(6.40,15.15),(6.60,15.04),(6.60,14.83),(6.60,14.75),(6.60,14.67),(6.60,14.58),(6.40,14.81),(6.45,14.74),(6.49,14.58),(6.56,14.58),(6.78,14.68),(6.78,14.46),(6.83,14.46),(6.34,14.52),(6.40,14.47),(6.54,14.44),(6.47,14.35),(6.54,14.29),(6.04,14.35),(6.85,14.31),(6.29,14.10),(6.40,14.10),(6.47,14.10),(6.54,14.15),(6.65,14.19),(6.04,13.92),(6.29,13.88),(6.29,13.79),(6.29,13.75),(6.49,13.81),(6.56,13.88),(6.65,13.88),(6.65,13.75),(6.54,13.75),(6.18,13.65),(6.18,13.60),(6.18,13.54),(6.03,13.56),(6.28,13.66),(6.20,13.46),(6.19,13.40),(6.16,13.25),(6.29,13.24),(6.39,13.25),(5.95,13.54),(6.41,13.38),(6.56,13.15),(6.56,12.96),(6.49,12.90),(6.56,12.83),(6.56,12.77),
(7.12,16.58),(7.12,16.52),(7.25,16.60),(7.12,16.42),(7.23,16.46),(7.25,16.21),(7.25,16.15),(7.12,16.13),(7.23,16.04),(7.07,15.85),(7.10,15.71),(7.10,15.58),(7.05,15.44),(7.14,15.38),(6.98,15.08),(7.09,14.92),(7.19,15.04),(7.34,15.04),(6.98,14.67),(7.09,14.73),(7.09,14.63)]

points_mid_top = [
(12.44,17.84),(12.51,17.84),(12.64,17.73),(12.46,17.65),(12.62,17.63),(12.68,17.63),(12.67,17.53),(12.26,17.54),(12.26,17.49),(12.26,17.38),(12.39,17.52),(12.49,17.53),(12.46,17.39),(12.46,17.23),(12.46,17.11),(12.31,17.17),(12.21,17.47),(12.21,17.01),(12.92,17.40),(12.88,17.26),(13.02,17.33),(13.13,17.26),(13.12,17.56),(13.26,17.65),(13.26,17.56),(13.36,17.54),(13.36,17.48),(13.37,17.31),(13.42,17.26),(13.41,17.15),(13.42,17.02),(12.92,17.00),(12.97,16.94),(13.16,16.99),(13.70,17.15),(13.72,17.56),(13.82,17.65),(13.82,17.57),(13.86,17.71),(13.96,17.72),(13.97,17.85),(14.09,17.75),(14.09,17.69),(13.86,17.48),(13.91,17.48),(13.98,17.48),(14.32,17.56),(14.36,17.52),(14.32,17.38),(14.34,17.31),(14.34,17.22),(14.78,17.69),(14.79,17.58),(14.88,17.55),(14.93,17.70),(14.93,17.62),(14.75,17.46),(14.79,17.10),(14.89,17.11),(15.03,17.11),(15.25,17.70),(15.25,17.65),(15.25,17.58),(15.25,17.42),(15.41,17.58),(15.47,17.57),(15.41,17.46),(15.35,17.33),(15.33,17.23),(15.41,17.33),(15.41,17.23),(15.11,17.29),(15.11,17.21),(15.11,17.13),(15.24,17.13),(15.24,17.08),(15.54,17.33),(15.54,17.23),(15.62,17.25),(15.64,17.33),(15.62,17.60),(15.73,17.58),(15.84,17.60),(15.80,17.52),(15.81,17.42),(15.81,17.31),(15.91,17.46),(15.91,17.38),(15.91,17.29),(15.95,17.58),(16.02,17.63),(16.09,17.63),(16.01,17.47),(16.00,17.36),(16.13,17.21),(16.13,17.15),(16.20,17.71),(16.33,17.71),(16.42,17.71),(16.48,17.71),(16.27,17.50),(16.20,17.48),(16.20,17.31),(16.33,17.23),(16.33,17.13),(16.44,17.27),(16.56,17.23),(16.64,17.79),(16.64,17.73),(16.72,17.72),(16.89,17.68),(16.89,17.58),(16.89,17.52),(16.75,17.46),(16.72,17.58),(16.59,17.54),(16.50,17.50),(16.42,17.52),(16.85,17.42),(16.98,17.40),(17.07,17.27),(17.17,17.56),(17.17,17.40),(17.30,17.44),(17.35,17.63),(17.43,17.41),(18.13,17.81),(18.13,17.75),(18.13,17.69),(18.13,17.63),(16.76,17.25),(16.76,17.17),(16.69,17.21),(16.69,17.13),(16.04,17.13),(15.45,17.08),(15.39,17.02),(15.77,17.04),(15.77,16.98),(15.12,17.02),(14.97,16.96),(14.79,17.02),(14.63,17.00),(14.34,17.04),(14.34,16.88),(14.05,17.00),(13.92,16.96),(13.64,17.00),(13.77,16.88),(13.66,16.88),(13.53,16.96),(13.40,16.88),(13.33,16.88),(13.17,16.88),(12.57,16.88),(12.81,16.88),(13.03,16.79),(13.06,16.88)]

within_legend_x = [0.97, 2.10]
within_legend_y = [18.5, 18.5]
outside_legend_x = [0.97, 2.10]
outside_legend_y = [16.5, 16.5]
ab_legend_x = [0.97, 1.98]
ab_legend_y = [15.01, 15.01]

all_points = (points_right_upper + points_middle_right + points_far_right + points_lower_mid + points_lower_right
              + points_bottom_edge + points_left_upper + points_left_middle + points_left_lower + points_top_left
              + points_left_of_band + points_mid_top)
FONT = "DejaVu Sans"

p = figure(width=2400, height=1800, output_backend="svg", toolbar_location=None,
           x_range=Range1d(0, 25), y_range=Range1d(2, 20), x_axis_location=None, y_axis_location=None,
           min_border_left=300, min_border_right=240, min_border_top=180, min_border_bottom=180,
           background_fill_color="white", border_fill_color="white")
p.grid.visible = False
p.outline_line_color = "black"
p.outline_line_width = 4

p.title.text = title_text
p.title.text_font = FONT
p.title.text_font_size = "60px"
p.title.text_font_style = "normal"
p.title.align = "center"
p.title.text_color = "black"
p.title.standoff = 15

def make_axis(ticks, blank):
    ax = LinearAxis(ticker=FixedTicker(ticks=ticks))
    ax.axis_line_color = None
    ax.major_tick_in = 16
    ax.major_tick_out = 0
    ax.major_tick_line_width = 2
    ax.major_tick_line_color = "black"
    ax.minor_tick_line_color = None
    ax.major_label_text_font = FONT
    ax.major_label_text_font_size = "50px"
    ax.major_label_text_color = "black"
    ax.axis_label_text_font = FONT
    ax.axis_label_text_font_size = "50px"
    ax.axis_label_text_font_style = "normal"
    ax.axis_label_text_color = "black"
    if blank:
        ax.major_label_overrides = {t: "" for t in ticks}
    return ax

# tick marks on the bottom edge
bottom = make_axis(x_ticks, True)
p.add_layout(bottom, "below")

# the reference prints each x tick label to the right of its tick: a second axis carries the texts.
# The last label sits on the end of the range, so non-breaking spaces push it to the right instead.
label_shift = {0: 0.33, 5: 0.33, 10: 0.25, 15: 0.25, 20: 0.25, 25: 0.0}
label_positions = [t + label_shift[t] for t in x_ticks]
x_labels = make_axis(label_positions, False)
x_labels.major_label_overrides = {t + label_shift[t]: ("\u00a0\u00a025" if t == 25 else str(t)) for t in x_ticks}
x_labels.major_tick_in = 0
x_labels.major_tick_line_color = None
x_labels.major_label_standoff = 9
x_labels.axis_label = x_title
x_labels.axis_label_standoff = -6
p.add_layout(x_labels, "below")

left = make_axis(y_ticks, False)
left.axis_label = y_title
left.major_label_standoff = 16
left.axis_label_standoff = 48
p.add_layout(left, "left")
p.add_layout(make_axis(x_ticks, True), "above")
p.add_layout(make_axis(y_ticks, True), "right")

p.patch(loose_x, loose_y, fill_color=None, line_color=None, hatch_pattern="diagonal_cross", hatch_color="black", hatch_scale=9, hatch_weight=2)
p.patch(dense_x, dense_y, fill_color="black", line_color=None, hatch_pattern="dot", hatch_color="white", hatch_scale=7, hatch_weight=0.5)
p.patch(core_x, core_y, fill_color="black", line_color="black")
p.scatter([q[0] for q in all_points], [q[1] for q in all_points], size=5, color="black", line_color=None)
p.line(identity_x, identity_y, line_color="black", line_width=4, line_dash="25 25")

box = BoxAnnotation(left=0.403, right=6.19, top=19.64, bottom=14.46, fill_color="white", fill_alpha=1,
                    line_color="black", line_width=4, line_alpha=1)
p.add_layout(box)
p.scatter(within_legend_x, within_legend_y, size=3.5, color="black", line_color=None, level="overlay")
p.scatter(outside_legend_x, outside_legend_y, size=3.5, color="black", line_color=None, level="overlay")
p.line(ab_legend_x, ab_legend_y, line_color="black", line_width=4, line_dash="25 25", level="overlay")
for txt, ly in [("within", 19.02), ("epsilon", 18.145), ("outside", 17.045), ("epsilon", 16.145), ("A = B", 15.02)]:
    p.add_layout(Label(x=2.96, y=ly, text=txt, text_align="left", text_baseline="alphabetic",
                       text_font=FONT, text_font_size="60px", text_color="black"))

open("out.html", "w").write(file_html(p, INLINE))
